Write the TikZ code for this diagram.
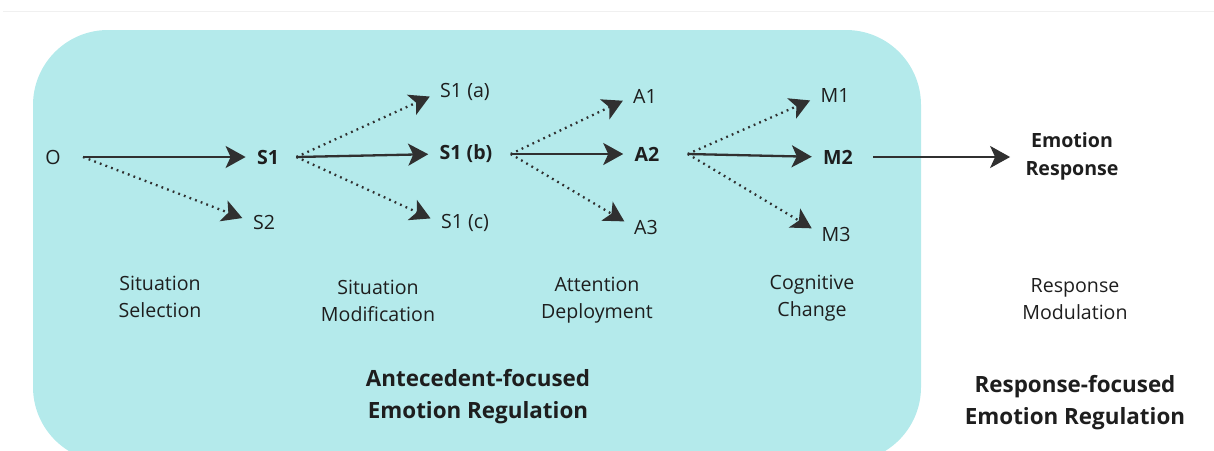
\documentclass[tikz,border=0pt]{standalone}
\usepackage{fontspec}
\setmainfont{Open Sans}
\usetikzlibrary{arrows.meta}
\definecolor{boxcyan}{HTML}{B4EAEB}
\definecolor{inkdark}{HTML}{1E1E1E}
\definecolor{arrowdark}{HTML}{303030}

\begin{document}
\begin{tikzpicture}[x=0.5pt, y=-0.5pt,
				stage/.style={inner sep=0pt, text=inkdark, font=\fontsize{9.8}{13.5}\selectfont},
				pick/.style={stage, font=\fontsize{9.8}{14}\selectfont\bfseries, align=center},
				phase/.style={stage, align=center},
				family/.style={inner sep=0pt, align=center, text=inkdark, font=\fontsize{11.2}{16}\selectfont\bfseries},
				taken/.style={line width=1.15pt, draw=arrowdark, -{Stealth[length=10pt,width=11pt,inset=2.5pt]}, shorten >=5.5pt},
				skipped/.style={taken, dash pattern=on 0.9pt off 2.1pt}
			]
			\useasboundingbox (0,0) rectangle (1214,450);
			\clip (0,0) rectangle (1214,450);
			\draw[line width=0.5pt, black!6] (3,11) -- (1214,11);
			\fill[boxcyan, rounded corners=37.5pt] (33,30) rectangle (921,462);
			% options along the way
			\node[stage] (O) at (53,157) {O};
			\node[pick] (S1) at (268,157) {S1};
			\node[stage] (S2) at (264,222) {S2};
			\node[stage] (S1a) at (465,92) {S1 (a)};
			\node[pick] (S1b) at (466,154) {S1 (b)};
			\node[stage] (S1c) at (465,223) {S1 (c)};
			\node[stage] (A1) at (645,96) {A1};
			\node[pick] (A2) at (647,154) {A2};
			\node[stage] (A3) at (646,227) {A3};
			\node[stage] (M1) at (835,96) {M1};
			\node[pick] (M2) at (838,157) {M2};
			\node[stage] (M3) at (836,234) {M3};
			\node[pick] (response) at (1072,156) {Emotion\\Response};
			% stage names
			\node[phase] (selection) at (160,297) {Situation\\Selection};
			\node[phase] (modification) at (378,301) {Situation\\Modification};
			\node[phase] (deployment) at (597,300) {Attention\\Deployment};
			\node[phase] (change) at (812,298) {Cognitive\\Change};
			\node[phase] (modulation) at (1075,299) {Response\\Modulation};
			\node[family] (antecedent) at (478,397) {Antecedent-focused\\Emotion Regulation};
			\node[family] (responsefocused) at (1075,403) {Response-focused\\Emotion Regulation};
			% fan points
			\coordinate (O-out) at ([xshift=11pt]O.east);
			\coordinate (S1-out) at ([xshift=8.5pt]S1.east);
			\coordinate (S1b-out) at ([xshift=9pt]S1b.east);
			\coordinate (A2-out) at ([xshift=14pt]A2.east);
			\coordinate (M2-out) at ([xshift=10pt]M2.east);
			\begin{scope}
			\draw[taken] (O-out) -- (S1.west);
			\draw[skipped] (O-out) -- (S2.west);
			\draw[skipped] (S1-out) -- (S1a.west);
			\draw[taken] (S1-out) -- (S1b.west);
			\draw[skipped] (S1-out) -- (S1c.west);
			\draw[skipped] (S1b-out) -- (A1.west);
			\draw[taken] (S1b-out) -- (A2.west);
			\draw[skipped] (S1b-out) -- (A3.west);
			\draw[skipped] (A2-out) -- (M1.west);
			\draw[taken] (A2-out) -- (M2.west);
			\draw[skipped] (A2-out) -- (M3.west);
			\draw[taken, shorten >=7.5pt] (M2-out) -- (response.west |- M2-out);
			\end{scope}
			\end{tikzpicture}
\end{document}
